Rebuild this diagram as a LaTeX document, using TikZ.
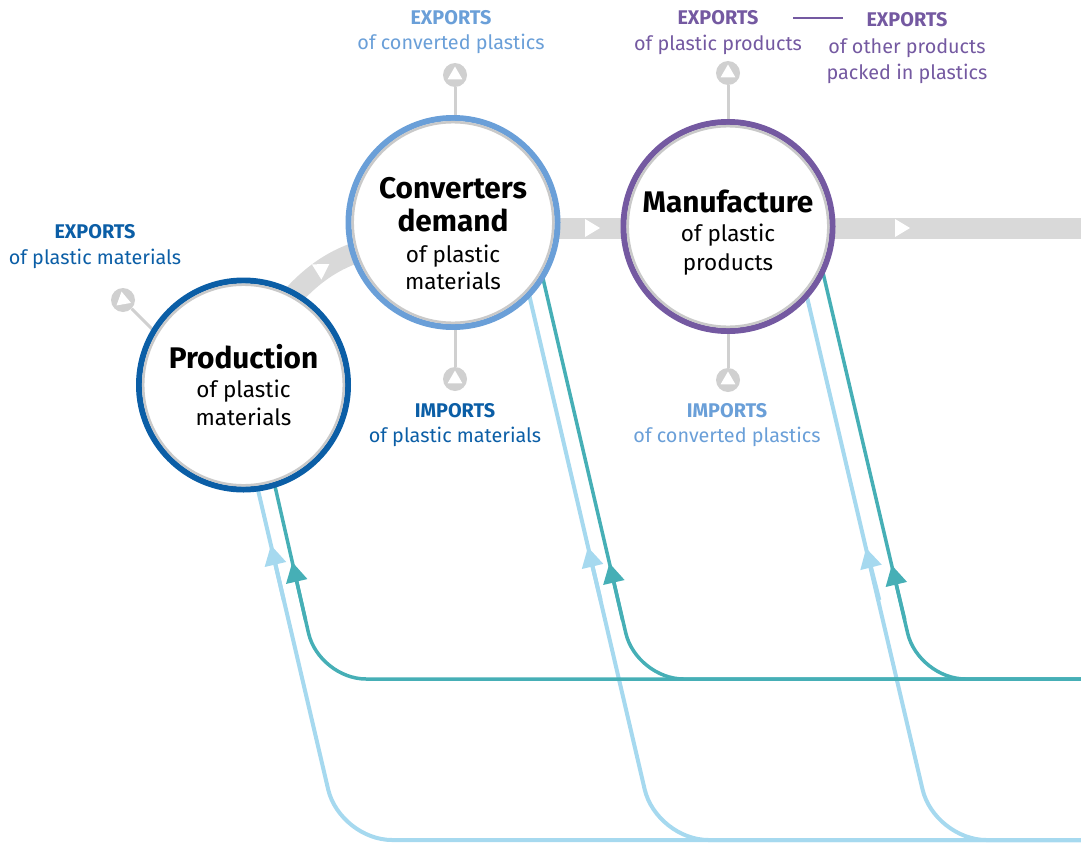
\documentclass[tikz,border=0pt]{standalone}
\usepackage{fontspec}
\setmainfont{Fira Sans}
\usetikzlibrary{arrows.meta}
\definecolor{darkblue}{HTML}{0B5EA6}
\definecolor{lightblue}{HTML}{6A9FD8}
\definecolor{purp}{HTML}{7459A1}
\definecolor{cyanline}{HTML}{A6D9EF}
\definecolor{tealline}{HTML}{46AFB6}
\definecolor{bandgray}{HTML}{D9D9D9}
\definecolor{markgray}{HTML}{D0D0D0}
\definecolor{ringgray}{HTML}{C9C9C9}
\tikzset{
  hub/.style={circle, fill=white, line width=6pt, minimum size=209pt, inner sep=0pt},
  innerring/.style={draw=ringgray, line width=2.5pt},
  band/.style={draw=bandgray, line width=21pt},
  marker/.style={circle, fill=markgray, minimum size=24pt, inner sep=0pt},
  markline/.style={draw=markgray, line width=3pt},
  cyanflow/.style={draw=cyanline, line width=4pt, rounded corners=52pt},
  tealflow/.style={draw=tealline, line width=3.5pt, rounded corners=47pt},
  cyanarrow/.style={draw=cyanline, line width=4pt, -{Triangle[length=20pt,width=21pt]}},
  tealarrow/.style={draw=tealline, line width=3.5pt, -{Triangle[length=20pt,width=21pt]}},
  hubtitle/.style={anchor=base, font=\fontsize{29.8}{32}\selectfont\bfseries, inner sep=0pt},
  hubtext/.style={anchor=base, font=\fontsize{22.5}{26}\selectfont, inner sep=0pt},
  lbltitle/.style={anchor=base, font=\fontsize{19.8}{22}\selectfont\bfseries, inner sep=0pt},
  lbltext/.style={anchor=base, font=\fontsize{19.8}{22}\selectfont, inner sep=0pt},
  pics/flowtri/.style={code={\fill[white] (-7.5,-9) -- (7.5,0) -- (-7.5,9) -- cycle;}},
  pics/marktri/.style={code={\fill[white] (0:8.5) -- (120:8.5) -- (240:8.5) -- cycle;}}
}
\begin{document}
\begin{tikzpicture}[x=1pt,y=-1pt]
\useasboundingbox (0,0) rectangle (1081,843);
\clip (0,0) rectangle (1081,843);

% flow lines (under hubs)
\coordinate (pcS) at (251,460);  \coordinate (pcC) at (340,840);
\coordinate (ptS) at (269,460);  \coordinate (ptC) at (319,679);
\coordinate (ccS) at (528,290);  \coordinate (ccC) at (656.5,840);
\coordinate (ctS) at (541,270);  \coordinate (ctC) at (636.5,679);
\coordinate (mcS) at (803,280);  \coordinate (mcC) at (934.4,840);
\coordinate (mtS) at (820,260);  \coordinate (mtC) at (918.4,679);
\coordinate (endC) at (1100,840);
\coordinate (endT) at (1100,679);

\draw[cyanflow] (pcS) -- (pcC) -- (endC);
\draw[cyanflow] (ccS) -- (ccC) -- (endC);
\draw[cyanflow] (mcS) -- (mcC) -- (endC);
\draw[tealflow] (ptS) -- (ptC) -- (endT);
\draw[tealflow] (ctS) -- (ctC) -- (endT);
\draw[tealflow] (mtS) -- (mtC) -- (endT);

\draw[cyanarrow] (283.7,600) -- (270.9,545);
\draw[tealarrow] (305.5,620) -- (292.3,562);
\draw[cyanarrow] (600.6,600) -- (587.9,547);
\draw[tealarrow] (622.5,620) -- (609.4,563);
\draw[cyanarrow] (879.3,600) -- (866.1,548);
\draw[tealarrow] (904.8,620) -- (891.7,565);

% gray bands
\draw[band] (285,305) .. controls (310,275) and (335,258) .. (365,250);
\draw[band] (540,228) -- (640,228);
\draw[band] (815,228) -- (1100,228);
\pic[rotate=32] at (323,268) {flowtri};
\pic at (592.5,228) {flowtri};
\pic at (902.5,228) {flowtri};

% markers
\node[marker] (mPE) at (123,300) {};
\node[marker] (mCE) at (455,75) {};
\node[marker] (mCI) at (455,379) {};
\node[marker] (mME) at (728,73) {};
\node[marker] (mMI) at (728,380) {};
\draw[markline] (mPE) -- (163,340);
\draw[markline] (mCE) -- (455,125);
\draw[markline] (mCI) -- (455,320);
\draw[markline] (mME) -- (728,130);
\draw[markline] (mMI) -- (728,320);
\pic[rotate=-20] at (mPE) {marktri};
\pic[rotate=90] at (mCE) {marktri};
\pic[rotate=90] at (mCI) {marktri};
\pic[rotate=90] at (mME) {marktri};
\pic[rotate=90] at (mMI) {marktri};

% hubs
\node[hub, draw=darkblue] (prod) at (243.5,385) {};
\node[hub, draw=lightblue] (conv) at (453,222.5) {};
\node[hub, draw=purp] (manu) at (728,226.5) {};
\draw[innerring] (prod.center) circle[radius=100.3];
\draw[innerring] (conv.center) circle[radius=100.3];
\draw[innerring] (manu.center) circle[radius=100.3];

% hub texts
\node[hubtitle] (prodT) at (243.5,368) {Production};
\node[hubtext] (prodA) at (243.5,397) {of plastic};
\node[hubtext] (prodB) at (243.5,425) {materials};

\node[hubtitle] (convT) at (453,198) {Converters};
\node[hubtitle] (convU) at (453,231) {demand};
\node[hubtext] (convA) at (453,262) {of plastic};
\node[hubtext] (convB) at (453,289) {materials};

\node[hubtitle] (manuT) at (728,212) {Manufacture};
\node[hubtext] (manuA) at (728,241) {of plastic};
\node[hubtext] (manuB) at (728,270) {products};

% labels
\node[lbltitle, text=lightblue] (l1a) at (451,25) {EXPORTS};
\node[lbltext, text=lightblue] (l1b) at (451,50) {of converted plastics};

\node[lbltitle, text=purp] (l2a) at (718,25) {EXPORTS};
\node[lbltext, text=purp] (l2b) at (718,51) {of plastic products};

\node[lbltitle, text=purp] (l3a) at (907,27) {EXPORTS};
\node[lbltext, text=purp] (l3b) at (907,53) {of other products};
\node[lbltext, text=purp] (l3c) at (907,79) {packed in plastics};
\coordinate (dashA) at (793,18);
\coordinate (dashB) at (843,18);
\draw[purp, line width=2.5pt] (dashA) -- (dashB);

\node[lbltitle, text=darkblue] (l4a) at (95,238) {EXPORTS};
\node[lbltext, text=darkblue] (l4b) at (95,264) {of plastic materials};

\node[lbltitle, text=darkblue] (l5a) at (455,417) {IMPORTS};
\node[lbltext, text=darkblue] (l5b) at (455,442) {of plastic materials};

\node[lbltitle, text=lightblue] (l6a) at (727,417) {IMPORTS};
\node[lbltext, text=lightblue] (l6b) at (727,442) {of converted plastics};
\end{tikzpicture}
\end{document}
